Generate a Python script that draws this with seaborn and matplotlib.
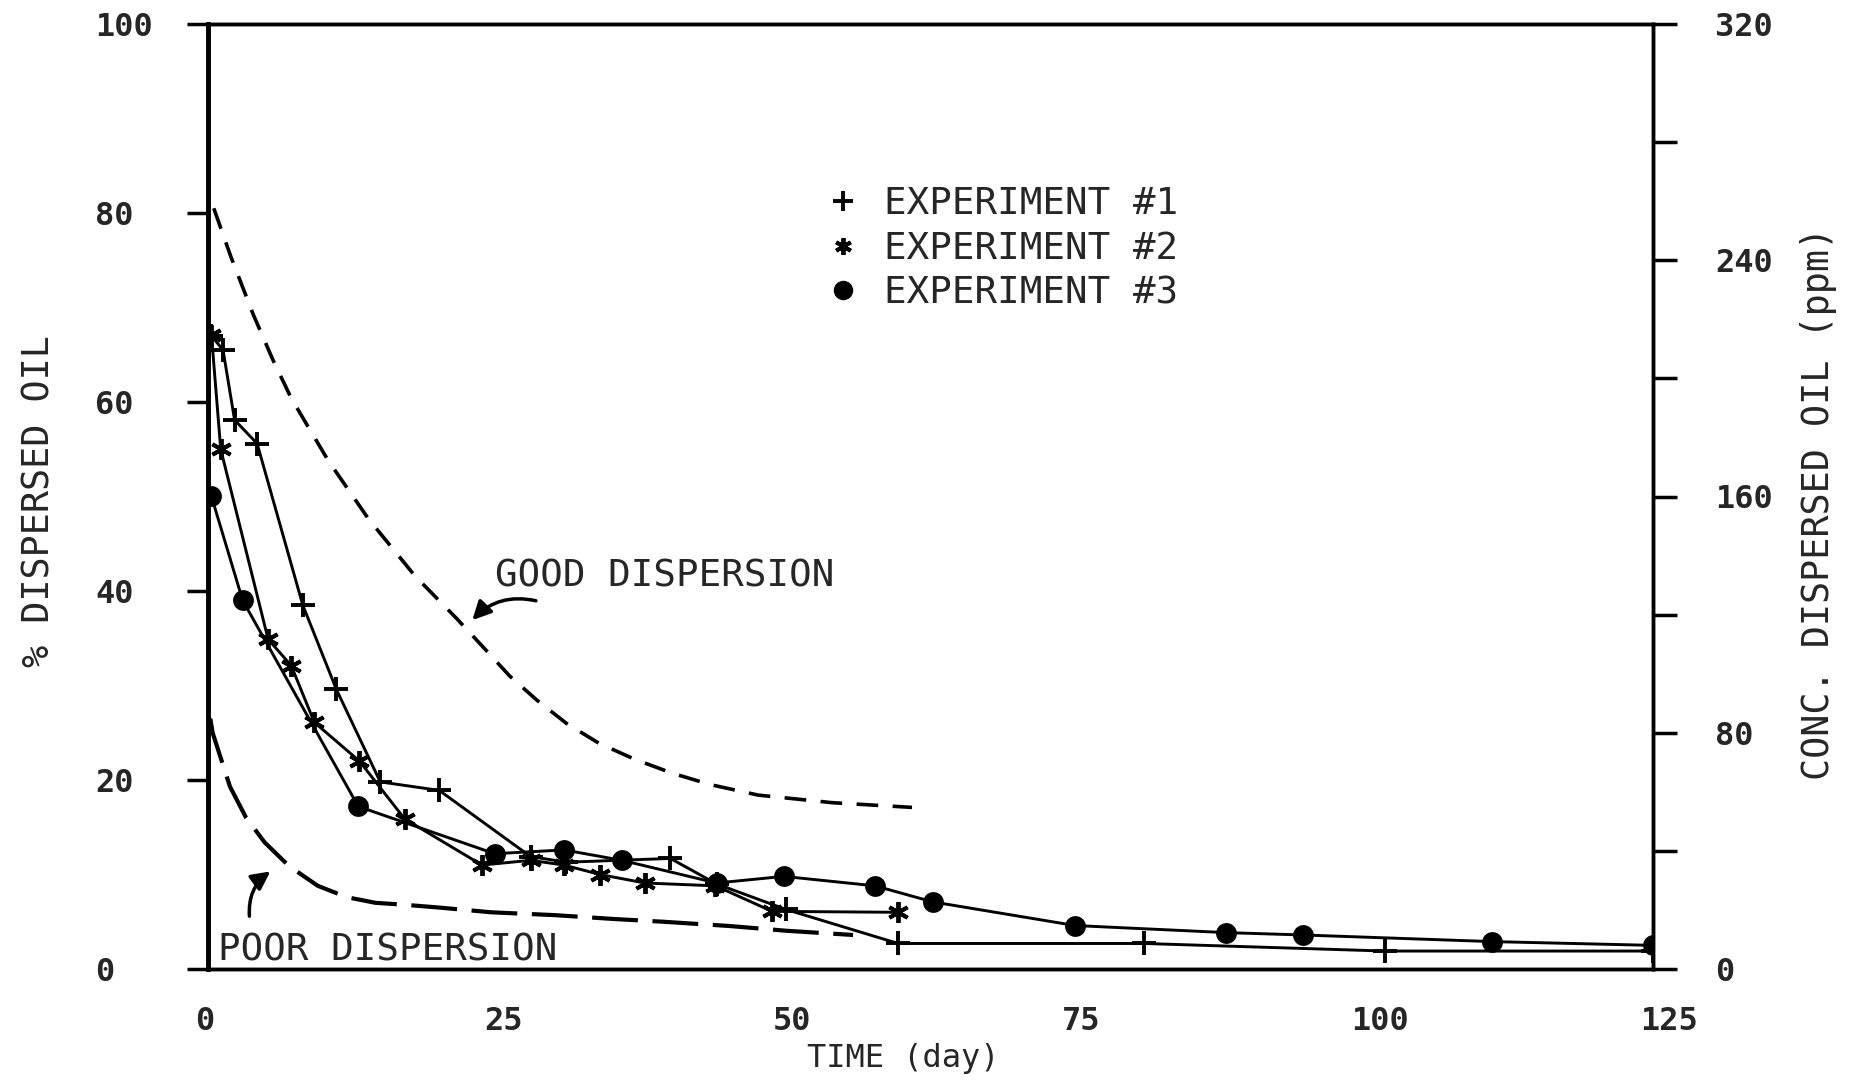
import numpy as np
import pandas as pd
import matplotlib
matplotlib.use("Agg")
import matplotlib.pyplot as plt
import matplotlib.transforms as mtransforms
from matplotlib.lines import Line2D
import seaborn as sns

# ---------------- data ----------------
exp1_day = [0.3, 1.3, 2.3, 4.25, 8.2, 11.1, 14.9, 20.0, 27.9, 31.0, 40.0, 44.0, 50.0, 59.7, 81.0, 101.8, 125.0]
exp1_pct = [67.0, 65.5, 58.1, 55.6, 38.5, 29.6, 19.8, 18.9, 11.9, 11.3, 11.7, 9.0, 6.3, 2.7, 2.7, 1.9, 1.9]

exp2_day = [0.3, 1.1, 5.2, 7.2, 9.2, 13.1, 17.0, 23.7, 27.9, 30.8, 33.9, 37.8, 43.9, 48.8, 59.7]
exp2_pct = [67.1, 55.0, 34.9, 32.1, 26.1, 22.0, 15.9, 11.0, 11.5, 11.0, 10.0, 9.1, 8.8, 6.1, 6.0]

exp3_day = [0.3, 3.0, 13.0, 24.8, 30.8, 35.8, 44.0, 49.8, 57.7, 62.7, 75.0, 88.1, 94.7, 111.1, 125.0]
exp3_pct = [50.0, 39.0, 17.2, 12.2, 12.6, 11.5, 9.1, 9.8, 8.8, 7.1, 4.6, 3.85, 3.6, 2.9, 2.5]

good_day = [0.5, 2.0, 3.9, 5.6, 7.2, 10.4, 13.9, 17.9, 21.5, 24.0, 26.1, 28.5, 31.0, 33.8, 36.9, 40.2, 43.5, 47.6, 54.0, 60.9]
good_pct = [80.5, 75.3, 69.3, 64.5, 60.4, 53.8, 47.6, 41.6, 37.1, 33.8, 31.0, 28.4, 26.0, 23.9, 22.2, 20.7, 19.5, 18.4, 17.6, 17.1]

poor_day = [0.2, 0.4, 1.9, 3.3, 4.9, 7.0, 9.5, 12.0, 14.5, 17.0, 20.0, 24.5, 30.0, 35.0, 39.4, 45.1, 50.0, 55.8]
poor_pct = [26.5, 25.0, 19.3, 16.0, 13.4, 10.9, 8.8, 7.6, 7.0, 6.8, 6.5, 6.0, 5.7, 5.3, 5.0, 4.55, 4.05, 3.6]

x_ticks = [0, 25, 50, 75, 100, 125]
y_ticks = [0, 20, 40, 60, 80, 100]
y2_ticks = [0, 80, 160, 240, 320]
y2_minor = [40, 120, 200, 280]

labels = ["EXPERIMENT #1", "EXPERIMENT #2", "EXPERIMENT #3"]
good_text = "GOOD DISPERSION"
poor_text = "POOR DISPERSION"
good_text_pos = (24.8, 41.5)
poor_text_pos = (0.9, 2.0)
good_arrow = ((28.6, 38.9), (22.7, 36.7))   # tail, head
poor_arrow = ((3.6, 5.3), (5.6, 10.5))

# ---------------- style ----------------
sns.set_style("white")
plt.rcParams["font.family"] = ["DejaVu Sans Mono", "DejaVu Sans"]

W, H = 1858, 1083
fig = plt.figure(figsize=(W / 100, H / 100), dpi=100)
L, R, T, B = 208, 1653, 24, 969
ax = fig.add_axes([L / W, 1 - B / H, (R - L) / W, (B - T) / H])

df1 = pd.DataFrame({"day": exp1_day, "pct": exp1_pct})
df2 = pd.DataFrame({"day": exp2_day, "pct": exp2_pct})
df3 = pd.DataFrame({"day": exp3_day, "pct": exp3_pct})
dfg = pd.DataFrame({"day": good_day, "pct": good_pct})
dfp = pd.DataFrame({"day": poor_day, "pct": poor_pct})

ast = (6, 2, 0)
sns.lineplot(data=df1, x="day", y="pct", ax=ax, sort=False, estimator=None, color="black",
             lw=2.1, marker="+", markersize=17, markeredgewidth=2.8, markeredgecolor="black")
sns.lineplot(data=df2, x="day", y="pct", ax=ax, sort=False, estimator=None, color="black",
             lw=2.1, marker=ast, markersize=15, markeredgewidth=2.8, markeredgecolor="black")
sns.lineplot(data=df3, x="day", y="pct", ax=ax, sort=False, estimator=None, color="black",
             lw=2.1, marker="o", markersize=15, markeredgewidth=0, markerfacecolor="black")
sns.lineplot(data=dfg, x="day", y="pct", ax=ax, sort=False, estimator=None, color="black",
             lw=2.6, linestyle=(0, (6, 4)))
sns.lineplot(data=dfp, x="day", y="pct", ax=ax, sort=False, estimator=None, color="black",
             lw=3.0, linestyle=(0, (11, 3.5)))

ax.set_xlim(0, 125)
ax.set_ylim(0, 100)
ax.set_xticks(x_ticks)
ax.set_yticks(y_ticks)
ax.set_xticklabels([str(v) for v in x_ticks], fontsize=23, fontweight="bold")
ax.set_yticklabels([str(v) for v in y_ticks], fontsize=23, fontweight="bold")
for s in ax.spines.values():
    s.set_linewidth(2.5)
    s.set_color("black")
ax.spines["left"].set_linewidth(3.5)
ax.tick_params(axis="y", direction="out", length=15, width=2.5, pad=66, color="black")
ax.tick_params(axis="x", direction="out", length=14, width=2.5, pad=13, color="black")
for lab in ax.get_yticklabels():
    lab.set_horizontalalignment("left")
off = mtransforms.ScaledTranslation(-13 / 100, 0, fig.dpi_scale_trans)
for lab in ax.get_xticklabels():
    lab.set_horizontalalignment("left")
    lab.set_transform(lab.get_transform() + off)

ax.set_xlabel("TIME (day)", fontsize=23)
ax.xaxis.set_label_coords((903 - L) / (R - L), (B - 1058) / (B - T))
ax.xaxis.label.set_va("center")
ax.set_ylabel("% DISPERSED OIL", fontsize=26.5)
ax.yaxis.label.set_rotation_mode("anchor")
ax.yaxis.label.set_va("center")
ax.yaxis.label.set_ha("center")
ax.yaxis.set_label_coords((39 - L) / (R - L), (B - 501) / (B - T))

ax2 = ax.twinx()
ax2.set_ylim(0, 320)
ax2.set_yticks(y2_ticks)
ax2.set_yticks(y2_minor, minor=True)
ax2.set_yticklabels([str(v) for v in y2_ticks], fontsize=23, fontweight="bold")
ax2.tick_params(axis="y", which="both", direction="out", length=17, width=2.5, pad=28, color="black")
for s in ax2.spines.values():
    s.set_linewidth(2.5)
    s.set_color("black")
ax2.set_ylabel("CONC. DISPERSED OIL (ppm)", fontsize=26.5)
ax2.yaxis.label.set_rotation_mode("anchor")
ax2.yaxis.label.set_va("center")
ax2.yaxis.label.set_ha("center")
ax2.yaxis.set_label_coords((1819 - L) / (R - L), (B - 503) / (B - T))

# annotations
ax.text(*good_text_pos, good_text, fontsize=27, ha="left", va="center")
ax.text(*poor_text_pos, poor_text, fontsize=27, ha="left", va="center")
ax.annotate("", xy=good_arrow[1], xytext=good_arrow[0],
            arrowprops=dict(arrowstyle="-|>", connectionstyle="arc3,rad=0.3",
                            lw=2.5, color="black", mutation_scale=28))
ax.annotate("", xy=poor_arrow[1], xytext=poor_arrow[0],
            arrowprops=dict(arrowstyle="-|>", connectionstyle="arc3,rad=-0.3",
                            lw=2.5, color="black", mutation_scale=28))

# legend (markers only)
handles = [
    Line2D([], [], linestyle="none", marker="+", markersize=14, markeredgewidth=2.8, color="black"),
    Line2D([], [], linestyle="none", marker=ast, markersize=12, markeredgewidth=2.8, color="black"),
    Line2D([], [], linestyle="none", marker="o", markersize=14, markeredgewidth=0, color="black"),
]
leg = ax.legend(handles, labels, loc="upper left",
                bbox_to_anchor=((832 - L) / (R - L), (B - 186) / (B - T)),
                frameon=False, fontsize=27, handlelength=0.6, handletextpad=0.8,
                labelspacing=0.23, borderpad=0, borderaxespad=0)
ax.set_zorder(ax2.get_zorder() + 1)
ax.patch.set_visible(False)

fig.savefig("out.png", dpi=100)
